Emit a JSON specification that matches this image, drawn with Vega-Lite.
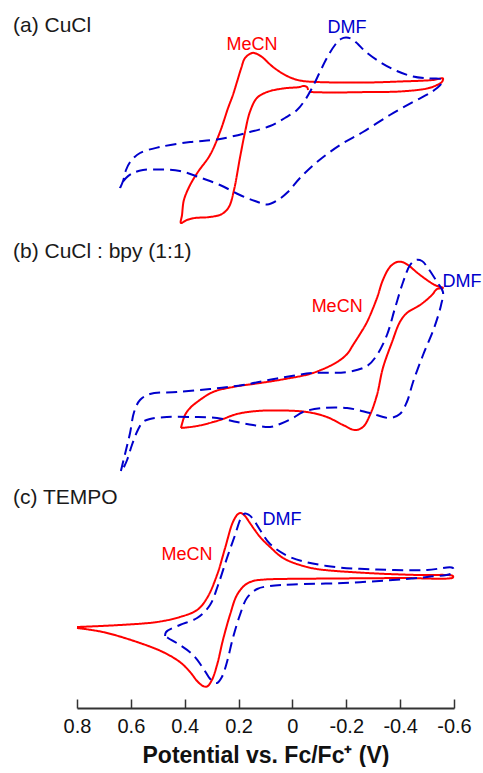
{
  "$schema": "https://vega.github.io/schema/vega-lite/v6.json",
  "background": "white",
  "padding": {"left": 13, "top": 15, "right": 0, "bottom": 0},
  "bounds": "flush",
  "spacing": 31,
  "config": {
    "view": {"stroke": null},
    "font": "Liberation Sans",
    "title": {"anchor": "start", "frame": "group", "dx": -64, "fontSize": 21, "fontWeight": "normal", "color": "#1a1a1a", "baseline": "alphabetic"}
  },
  "datasets": {
    "cv_a": [
      {"solvent": "MeCN", "i": 1, "E": -0.061, "I": 13.6},
      {"solvent": "MeCN", "i": 2, "E": -0.140, "I": 13.55},
      {"solvent": "MeCN", "i": 3, "E": -0.288, "I": 13.6},
      {"solvent": "MeCN", "i": 4, "E": -0.399, "I": 13.65},
      {"solvent": "MeCN", "i": 5, "E": -0.500, "I": 13.95},
      {"solvent": "MeCN", "i": 6, "E": -0.537, "I": 14.3},
      {"solvent": "MeCN", "i": 7, "E": -0.555, "I": 14.6},
      {"solvent": "MeCN", "i": 8, "E": -0.559, "I": 14.95},
      {"solvent": "MeCN", "i": 9, "E": -0.522, "I": 14.8},
      {"solvent": "MeCN", "i": 10, "E": -0.399, "I": 14.65},
      {"solvent": "MeCN", "i": 11, "E": -0.277, "I": 14.55},
      {"solvent": "MeCN", "i": 12, "E": -0.091, "I": 14.6},
      {"solvent": "MeCN", "i": 13, "E": -0.028, "I": 14.75},
      {"solvent": "MeCN", "i": 14, "E": 0.020, "I": 15.2},
      {"solvent": "MeCN", "i": 15, "E": 0.072, "I": 16.1},
      {"solvent": "MeCN", "i": 16, "E": 0.113, "I": 17.1},
      {"solvent": "MeCN", "i": 17, "E": 0.135, "I": 17.45},
      {"solvent": "MeCN", "i": 18, "E": 0.150, "I": 17.5},
      {"solvent": "MeCN", "i": 19, "E": 0.176, "I": 17.0},
      {"solvent": "MeCN", "i": 20, "E": 0.190, "I": 16.0},
      {"solvent": "MeCN", "i": 21, "E": 0.206, "I": 14.6},
      {"solvent": "MeCN", "i": 22, "E": 0.221, "I": 13.3},
      {"solvent": "MeCN", "i": 23, "E": 0.239, "I": 12.0},
      {"solvent": "MeCN", "i": 24, "E": 0.269, "I": 9.6},
      {"solvent": "MeCN", "i": 25, "E": 0.306, "I": 7.3},
      {"solvent": "MeCN", "i": 26, "E": 0.351, "I": 5.6},
      {"solvent": "MeCN", "i": 27, "E": 0.380, "I": 4.3},
      {"solvent": "MeCN", "i": 28, "E": 0.403, "I": 2.8},
      {"solvent": "MeCN", "i": 29, "E": 0.410, "I": 1.3},
      {"solvent": "MeCN", "i": 30, "E": 0.414, "I": 0.5},
      {"solvent": "MeCN", "i": 31, "E": 0.392, "I": 0.8},
      {"solvent": "MeCN", "i": 32, "E": 0.362, "I": 1.0},
      {"solvent": "MeCN", "i": 33, "E": 0.306, "I": 1.1},
      {"solvent": "MeCN", "i": 34, "E": 0.262, "I": 1.4},
      {"solvent": "MeCN", "i": 35, "E": 0.236, "I": 2.1},
      {"solvent": "MeCN", "i": 36, "E": 0.217, "I": 3.8},
      {"solvent": "MeCN", "i": 37, "E": 0.195, "I": 7.0},
      {"solvent": "MeCN", "i": 38, "E": 0.176, "I": 9.6},
      {"solvent": "MeCN", "i": 39, "E": 0.158, "I": 11.6},
      {"solvent": "MeCN", "i": 40, "E": 0.132, "I": 13.0},
      {"solvent": "MeCN", "i": 41, "E": 0.094, "I": 13.6},
      {"solvent": "MeCN", "i": 42, "E": 0.035, "I": 13.95},
      {"solvent": "MeCN", "i": 43, "E": -0.028, "I": 14.1},
      {"solvent": "MeCN", "i": 44, "E": -0.039, "I": 14.2},
      {"solvent": "MeCN", "i": 45, "E": -0.054, "I": 14.1},
      {"solvent": "MeCN", "i": 46, "E": -0.058, "I": 13.8},
      {"solvent": "DMF", "i": 1, "E": 0.640, "I": 4.0},
      {"solvent": "DMF", "i": 2, "E": 0.629, "I": 4.7},
      {"solvent": "DMF", "i": 3, "E": 0.618, "I": 5.8},
      {"solvent": "DMF", "i": 4, "E": 0.600, "I": 6.7},
      {"solvent": "DMF", "i": 5, "E": 0.566, "I": 7.5},
      {"solvent": "DMF", "i": 6, "E": 0.492, "I": 8.1},
      {"solvent": "DMF", "i": 7, "E": 0.380, "I": 8.6},
      {"solvent": "DMF", "i": 8, "E": 0.280, "I": 8.85},
      {"solvent": "DMF", "i": 9, "E": 0.158, "I": 9.6},
      {"solvent": "DMF", "i": 10, "E": 0.083, "I": 10.2},
      {"solvent": "DMF", "i": 11, "E": 0.028, "I": 11.0},
      {"solvent": "DMF", "i": 12, "E": -0.017, "I": 11.8},
      {"solvent": "DMF", "i": 13, "E": -0.047, "I": 12.8},
      {"solvent": "DMF", "i": 14, "E": -0.073, "I": 14.0},
      {"solvent": "DMF", "i": 15, "E": -0.102, "I": 15.6},
      {"solvent": "DMF", "i": 16, "E": -0.128, "I": 17.0},
      {"solvent": "DMF", "i": 17, "E": -0.158, "I": 18.3},
      {"solvent": "DMF", "i": 18, "E": -0.180, "I": 18.9},
      {"solvent": "DMF", "i": 19, "E": -0.199, "I": 19.05},
      {"solvent": "DMF", "i": 20, "E": -0.221, "I": 18.9},
      {"solvent": "DMF", "i": 21, "E": -0.243, "I": 18.4},
      {"solvent": "DMF", "i": 22, "E": -0.269, "I": 17.7},
      {"solvent": "DMF", "i": 23, "E": -0.325, "I": 16.6},
      {"solvent": "DMF", "i": 24, "E": -0.388, "I": 15.7},
      {"solvent": "DMF", "i": 25, "E": -0.448, "I": 15.15},
      {"solvent": "DMF", "i": 26, "E": -0.503, "I": 14.95},
      {"solvent": "DMF", "i": 27, "E": -0.555, "I": 14.85},
      {"solvent": "DMF", "i": 28, "E": -0.552, "I": 14.4},
      {"solvent": "DMF", "i": 29, "E": -0.537, "I": 14.0},
      {"solvent": "DMF", "i": 30, "E": -0.511, "I": 13.5},
      {"solvent": "DMF", "i": 31, "E": -0.448, "I": 12.6},
      {"solvent": "DMF", "i": 32, "E": -0.362, "I": 11.3},
      {"solvent": "DMF", "i": 33, "E": -0.262, "I": 9.6},
      {"solvent": "DMF", "i": 34, "E": -0.177, "I": 8.3},
      {"solvent": "DMF", "i": 35, "E": -0.091, "I": 6.6},
      {"solvent": "DMF", "i": 36, "E": -0.028, "I": 5.0},
      {"solvent": "DMF", "i": 37, "E": 0.017, "I": 3.6},
      {"solvent": "DMF", "i": 38, "E": 0.054, "I": 2.8},
      {"solvent": "DMF", "i": 39, "E": 0.094, "I": 2.35},
      {"solvent": "DMF", "i": 40, "E": 0.139, "I": 2.7},
      {"solvent": "DMF", "i": 41, "E": 0.195, "I": 3.3},
      {"solvent": "DMF", "i": 42, "E": 0.269, "I": 4.3},
      {"solvent": "DMF", "i": 43, "E": 0.343, "I": 5.05},
      {"solvent": "DMF", "i": 44, "E": 0.418, "I": 5.7},
      {"solvent": "DMF", "i": 45, "E": 0.492, "I": 5.85},
      {"solvent": "DMF", "i": 46, "E": 0.555, "I": 5.8},
      {"solvent": "DMF", "i": 47, "E": 0.592, "I": 5.5},
      {"solvent": "DMF", "i": 48, "E": 0.618, "I": 5.0},
      {"solvent": "DMF", "i": 49, "E": 0.637, "I": 4.3},
      {"solvent": "DMF", "i": 50, "E": 0.640, "I": 4.0}
    ],
    "cv_b": [
      {"solvent": "MeCN", "i": 1, "E": 0.414, "I": 4.9},
      {"solvent": "MeCN", "i": 2, "E": 0.399, "I": 6.2},
      {"solvent": "MeCN", "i": 3, "E": 0.380, "I": 6.9},
      {"solvent": "MeCN", "i": 4, "E": 0.354, "I": 7.5},
      {"solvent": "MeCN", "i": 5, "E": 0.295, "I": 8.5},
      {"solvent": "MeCN", "i": 6, "E": 0.221, "I": 9.0},
      {"solvent": "MeCN", "i": 7, "E": 0.120, "I": 9.4},
      {"solvent": "MeCN", "i": 8, "E": 0.028, "I": 9.8},
      {"solvent": "MeCN", "i": 9, "E": -0.076, "I": 10.4},
      {"solvent": "MeCN", "i": 10, "E": -0.166, "I": 11.5},
      {"solvent": "MeCN", "i": 11, "E": -0.203, "I": 12.3},
      {"solvent": "MeCN", "i": 12, "E": -0.225, "I": 13.2},
      {"solvent": "MeCN", "i": 13, "E": -0.251, "I": 14.3},
      {"solvent": "MeCN", "i": 14, "E": -0.277, "I": 15.5},
      {"solvent": "MeCN", "i": 15, "E": -0.314, "I": 17.9},
      {"solvent": "MeCN", "i": 16, "E": -0.336, "I": 19.7},
      {"solvent": "MeCN", "i": 17, "E": -0.362, "I": 21.0},
      {"solvent": "MeCN", "i": 18, "E": -0.388, "I": 21.5},
      {"solvent": "MeCN", "i": 19, "E": -0.407, "I": 21.5},
      {"solvent": "MeCN", "i": 20, "E": -0.429, "I": 21.2},
      {"solvent": "MeCN", "i": 21, "E": -0.474, "I": 20.2},
      {"solvent": "MeCN", "i": 22, "E": -0.529, "I": 19.2},
      {"solvent": "MeCN", "i": 23, "E": -0.559, "I": 18.9},
      {"solvent": "MeCN", "i": 24, "E": -0.537, "I": 18.8},
      {"solvent": "MeCN", "i": 25, "E": -0.518, "I": 18.2},
      {"solvent": "MeCN", "i": 26, "E": -0.474, "I": 17.2},
      {"solvent": "MeCN", "i": 27, "E": -0.425, "I": 16.4},
      {"solvent": "MeCN", "i": 28, "E": -0.399, "I": 15.5},
      {"solvent": "MeCN", "i": 29, "E": -0.370, "I": 13.5},
      {"solvent": "MeCN", "i": 30, "E": -0.336, "I": 10.9},
      {"solvent": "MeCN", "i": 31, "E": -0.314, "I": 8.2},
      {"solvent": "MeCN", "i": 32, "E": -0.288, "I": 6.2},
      {"solvent": "MeCN", "i": 33, "E": -0.262, "I": 5.0},
      {"solvent": "MeCN", "i": 34, "E": -0.232, "I": 4.7},
      {"solvent": "MeCN", "i": 35, "E": -0.188, "I": 5.2},
      {"solvent": "MeCN", "i": 36, "E": -0.128, "I": 6.0},
      {"solvent": "MeCN", "i": 37, "E": -0.054, "I": 6.5},
      {"solvent": "MeCN", "i": 38, "E": 0.035, "I": 6.65},
      {"solvent": "MeCN", "i": 39, "E": 0.132, "I": 6.6},
      {"solvent": "MeCN", "i": 40, "E": 0.206, "I": 6.3},
      {"solvent": "MeCN", "i": 41, "E": 0.269, "I": 5.7},
      {"solvent": "MeCN", "i": 42, "E": 0.354, "I": 5.1},
      {"solvent": "MeCN", "i": 43, "E": 0.414, "I": 4.9},
      {"solvent": "DMF", "i": 1, "E": 0.637, "I": 0.6},
      {"solvent": "DMF", "i": 2, "E": 0.629, "I": 1.5},
      {"solvent": "DMF", "i": 3, "E": 0.618, "I": 2.7},
      {"solvent": "DMF", "i": 4, "E": 0.603, "I": 4.4},
      {"solvent": "DMF", "i": 5, "E": 0.588, "I": 6.5},
      {"solvent": "DMF", "i": 6, "E": 0.566, "I": 7.7},
      {"solvent": "DMF", "i": 7, "E": 0.529, "I": 8.3},
      {"solvent": "DMF", "i": 8, "E": 0.429, "I": 8.5},
      {"solvent": "DMF", "i": 9, "E": 0.306, "I": 8.8},
      {"solvent": "DMF", "i": 10, "E": 0.184, "I": 9.2},
      {"solvent": "DMF", "i": 11, "E": 0.057, "I": 9.85},
      {"solvent": "DMF", "i": 12, "E": -0.076, "I": 10.4},
      {"solvent": "DMF", "i": 13, "E": -0.203, "I": 10.5},
      {"solvent": "DMF", "i": 14, "E": -0.277, "I": 11.1},
      {"solvent": "DMF", "i": 15, "E": -0.314, "I": 12.2},
      {"solvent": "DMF", "i": 16, "E": -0.351, "I": 14.2},
      {"solvent": "DMF", "i": 17, "E": -0.381, "I": 16.9},
      {"solvent": "DMF", "i": 18, "E": -0.411, "I": 19.5},
      {"solvent": "DMF", "i": 19, "E": -0.437, "I": 21.2},
      {"solvent": "DMF", "i": 20, "E": -0.459, "I": 21.7},
      {"solvent": "DMF", "i": 21, "E": -0.481, "I": 21.6},
      {"solvent": "DMF", "i": 22, "E": -0.503, "I": 20.9},
      {"solvent": "DMF", "i": 23, "E": -0.537, "I": 19.5},
      {"solvent": "DMF", "i": 24, "E": -0.559, "I": 18.5},
      {"solvent": "DMF", "i": 25, "E": -0.552, "I": 17.2},
      {"solvent": "DMF", "i": 26, "E": -0.526, "I": 14.9},
      {"solvent": "DMF", "i": 27, "E": -0.485, "I": 12.2},
      {"solvent": "DMF", "i": 28, "E": -0.448, "I": 9.5},
      {"solvent": "DMF", "i": 29, "E": -0.425, "I": 7.5},
      {"solvent": "DMF", "i": 30, "E": -0.399, "I": 6.3},
      {"solvent": "DMF", "i": 31, "E": -0.362, "I": 5.9},
      {"solvent": "DMF", "i": 32, "E": -0.288, "I": 6.4},
      {"solvent": "DMF", "i": 33, "E": -0.203, "I": 6.9},
      {"solvent": "DMF", "i": 34, "E": -0.113, "I": 6.9},
      {"solvent": "DMF", "i": 35, "E": -0.039, "I": 6.5},
      {"solvent": "DMF", "i": 36, "E": -0.002, "I": 5.9},
      {"solvent": "DMF", "i": 37, "E": 0.046, "I": 5.3},
      {"solvent": "DMF", "i": 38, "E": 0.083, "I": 5.0},
      {"solvent": "DMF", "i": 39, "E": 0.146, "I": 5.2},
      {"solvent": "DMF", "i": 40, "E": 0.206, "I": 5.5},
      {"solvent": "DMF", "i": 41, "E": 0.280, "I": 5.9},
      {"solvent": "DMF", "i": 42, "E": 0.369, "I": 6.0},
      {"solvent": "DMF", "i": 43, "E": 0.466, "I": 6.0},
      {"solvent": "DMF", "i": 44, "E": 0.529, "I": 5.8},
      {"solvent": "DMF", "i": 45, "E": 0.555, "I": 5.5},
      {"solvent": "DMF", "i": 46, "E": 0.574, "I": 4.7},
      {"solvent": "DMF", "i": 47, "E": 0.596, "I": 3.2},
      {"solvent": "DMF", "i": 48, "E": 0.614, "I": 1.7},
      {"solvent": "DMF", "i": 49, "E": 0.629, "I": 0.8}
    ],
    "cv_c": [
      {"solvent": "MeCN", "i": 1, "E": 0.800, "I": 8.1},
      {"solvent": "MeCN", "i": 2, "E": 0.640, "I": 8.3},
      {"solvent": "MeCN", "i": 3, "E": 0.503, "I": 8.6},
      {"solvent": "MeCN", "i": 4, "E": 0.418, "I": 9.1},
      {"solvent": "MeCN", "i": 5, "E": 0.354, "I": 9.8},
      {"solvent": "MeCN", "i": 6, "E": 0.317, "I": 11.0},
      {"solvent": "MeCN", "i": 7, "E": 0.280, "I": 13.3},
      {"solvent": "MeCN", "i": 8, "E": 0.250, "I": 16.0},
      {"solvent": "MeCN", "i": 9, "E": 0.221, "I": 18.6},
      {"solvent": "MeCN", "i": 10, "E": 0.202, "I": 19.4},
      {"solvent": "MeCN", "i": 11, "E": 0.191, "I": 19.5},
      {"solvent": "MeCN", "i": 12, "E": 0.176, "I": 19.2},
      {"solvent": "MeCN", "i": 13, "E": 0.158, "I": 18.5},
      {"solvent": "MeCN", "i": 14, "E": 0.120, "I": 17.1},
      {"solvent": "MeCN", "i": 15, "E": 0.083, "I": 16.1},
      {"solvent": "MeCN", "i": 16, "E": 0.035, "I": 15.0},
      {"solvent": "MeCN", "i": 17, "E": -0.028, "I": 14.3},
      {"solvent": "MeCN", "i": 18, "E": -0.091, "I": 13.9},
      {"solvent": "MeCN", "i": 19, "E": -0.277, "I": 13.5},
      {"solvent": "MeCN", "i": 20, "E": -0.463, "I": 13.3},
      {"solvent": "MeCN", "i": 21, "E": -0.596, "I": 13.2},
      {"solvent": "MeCN", "i": 22, "E": -0.596, "I": 13.05},
      {"solvent": "MeCN", "i": 23, "E": -0.399, "I": 13.0},
      {"solvent": "MeCN", "i": 24, "E": -0.151, "I": 12.95},
      {"solvent": "MeCN", "i": 25, "E": 0.046, "I": 12.9},
      {"solvent": "MeCN", "i": 26, "E": 0.102, "I": 12.85},
      {"solvent": "MeCN", "i": 27, "E": 0.146, "I": 12.7},
      {"solvent": "MeCN", "i": 28, "E": 0.176, "I": 12.3},
      {"solvent": "MeCN", "i": 29, "E": 0.206, "I": 11.3},
      {"solvent": "MeCN", "i": 30, "E": 0.232, "I": 9.3},
      {"solvent": "MeCN", "i": 31, "E": 0.258, "I": 6.8},
      {"solvent": "MeCN", "i": 32, "E": 0.280, "I": 4.3},
      {"solvent": "MeCN", "i": 33, "E": 0.299, "I": 2.8},
      {"solvent": "MeCN", "i": 34, "E": 0.317, "I": 2.15},
      {"solvent": "MeCN", "i": 35, "E": 0.332, "I": 2.2},
      {"solvent": "MeCN", "i": 36, "E": 0.354, "I": 2.7},
      {"solvent": "MeCN", "i": 37, "E": 0.380, "I": 3.6},
      {"solvent": "MeCN", "i": 38, "E": 0.418, "I": 4.6},
      {"solvent": "MeCN", "i": 39, "E": 0.481, "I": 5.6},
      {"solvent": "MeCN", "i": 40, "E": 0.577, "I": 6.6},
      {"solvent": "MeCN", "i": 41, "E": 0.704, "I": 7.6},
      {"solvent": "MeCN", "i": 42, "E": 0.800, "I": 8.0},
      {"solvent": "DMF", "i": 1, "E": 0.473, "I": 7.2},
      {"solvent": "DMF", "i": 2, "E": 0.469, "I": 7.6},
      {"solvent": "DMF", "i": 3, "E": 0.418, "I": 8.3},
      {"solvent": "DMF", "i": 4, "E": 0.354, "I": 9.0},
      {"solvent": "DMF", "i": 5, "E": 0.306, "I": 10.3},
      {"solvent": "DMF", "i": 6, "E": 0.276, "I": 12.3},
      {"solvent": "DMF", "i": 7, "E": 0.243, "I": 15.0},
      {"solvent": "DMF", "i": 8, "E": 0.213, "I": 17.3},
      {"solvent": "DMF", "i": 9, "E": 0.191, "I": 19.0},
      {"solvent": "DMF", "i": 10, "E": 0.176, "I": 19.45},
      {"solvent": "DMF", "i": 11, "E": 0.161, "I": 19.3},
      {"solvent": "DMF", "i": 12, "E": 0.146, "I": 18.9},
      {"solvent": "DMF", "i": 13, "E": 0.120, "I": 17.8},
      {"solvent": "DMF", "i": 14, "E": 0.083, "I": 16.4},
      {"solvent": "DMF", "i": 15, "E": 0.009, "I": 15.1},
      {"solvent": "DMF", "i": 16, "E": -0.128, "I": 14.2},
      {"solvent": "DMF", "i": 17, "E": -0.314, "I": 13.85},
      {"solvent": "DMF", "i": 18, "E": -0.500, "I": 13.8},
      {"solvent": "DMF", "i": 19, "E": -0.596, "I": 14.0},
      {"solvent": "DMF", "i": 20, "E": -0.592, "I": 13.5},
      {"solvent": "DMF", "i": 21, "E": -0.500, "I": 13.1},
      {"solvent": "DMF", "i": 22, "E": -0.373, "I": 12.8},
      {"solvent": "DMF", "i": 23, "E": -0.188, "I": 12.5},
      {"solvent": "DMF", "i": 24, "E": -0.002, "I": 12.35},
      {"solvent": "DMF", "i": 25, "E": 0.083, "I": 12.2},
      {"solvent": "DMF", "i": 26, "E": 0.131, "I": 11.9},
      {"solvent": "DMF", "i": 27, "E": 0.169, "I": 11.0},
      {"solvent": "DMF", "i": 28, "E": 0.195, "I": 9.3},
      {"solvent": "DMF", "i": 29, "E": 0.221, "I": 7.0},
      {"solvent": "DMF", "i": 30, "E": 0.243, "I": 4.6},
      {"solvent": "DMF", "i": 31, "E": 0.262, "I": 3.1},
      {"solvent": "DMF", "i": 32, "E": 0.280, "I": 2.5},
      {"solvent": "DMF", "i": 33, "E": 0.302, "I": 2.8},
      {"solvent": "DMF", "i": 34, "E": 0.332, "I": 4.0},
      {"solvent": "DMF", "i": 35, "E": 0.369, "I": 5.3},
      {"solvent": "DMF", "i": 36, "E": 0.418, "I": 6.3},
      {"solvent": "DMF", "i": 37, "E": 0.462, "I": 7.0},
      {"solvent": "DMF", "i": 38, "E": 0.473, "I": 7.2}
    ],
    "labels": [
      {"panel": "a", "solvent": "MeCN", "E": 0.150, "I": 18.3},
      {"panel": "a", "solvent": "DMF", "E": -0.203, "I": 20.0},
      {"panel": "b", "solvent": "MeCN", "E": -0.166, "I": 17.0},
      {"panel": "b", "solvent": "DMF", "E": -0.630, "I": 19.5},
      {"panel": "c", "solvent": "MeCN", "E": 0.3915, "I": 15.3},
      {"panel": "c", "solvent": "DMF", "E": 0.0388, "I": 18.8}
    ]
  },
  "vconcat": [
    {
      "width": 377,
      "height": 193,
      "title": {"text": "(a) CuCl", "offset": -17},
      "encoding": {
        "x": {"field": "E", "type": "quantitative", "scale": {"domain": [-0.6, 0.8], "reverse": true, "nice": false, "zero": false}, "axis": null},
        "y": {"field": "I", "type": "quantitative", "scale": {"domain": [0, 19.3], "nice": false, "zero": false}, "axis": null},
        "color": {"field": "solvent", "type": "nominal", "scale": {"domain": ["MeCN", "DMF"], "range": ["#ff0000", "#0000cc"]}, "legend": null}
      },
      "layer": [
        {
          "data": {"name": "cv_a"},
          "mark": {"type": "line", "interpolate": "catmull-rom", "strokeWidth": 2},
          "encoding": {
            "order": {"field": "i", "type": "quantitative"},
            "strokeDash": {"field": "solvent", "type": "nominal", "scale": {"domain": ["MeCN", "DMF"], "range": [[1, 0], [11, 6]]}, "legend": null}
          }
        },
        {
          "data": {"name": "labels"},
          "transform": [{"filter": "datum.panel == 'a'"}],
          "mark": {"type": "text", "fontSize": 18, "baseline": "middle", "align": "center"},
          "encoding": {"text": {"field": "solvent"}}
        }
      ]
    },
    {
      "width": 377,
      "height": 218,
      "title": {"text": "(b) CuCl : bpy (1:1)", "offset": -6},
      "encoding": {
        "x": {"field": "E", "type": "quantitative", "scale": {"domain": [-0.6, 0.8], "reverse": true, "nice": false, "zero": false}, "axis": null},
        "y": {"field": "I", "type": "quantitative", "scale": {"domain": [0, 21.8], "nice": false, "zero": false}, "axis": null},
        "color": {"field": "solvent", "type": "nominal", "scale": {"domain": ["MeCN", "DMF"], "range": ["#ff0000", "#0000cc"]}, "legend": null}
      },
      "layer": [
        {
          "data": {"name": "cv_b"},
          "mark": {"type": "line", "interpolate": "catmull-rom", "strokeWidth": 2},
          "encoding": {
            "order": {"field": "i", "type": "quantitative"},
            "strokeDash": {"field": "solvent", "type": "nominal", "scale": {"domain": ["MeCN", "DMF"], "range": [[1, 0], [11, 6]]}, "legend": null}
          }
        },
        {
          "data": {"name": "labels"},
          "transform": [{"filter": "datum.panel == 'b'"}],
          "mark": {"type": "text", "fontSize": 18, "baseline": "middle", "align": "center"},
          "encoding": {"text": {"field": "solvent"}}
        }
      ]
    },
    {
      "width": 377,
      "height": 200,
      "title": {"text": "(c) TEMPO", "offset": 0},
      "encoding": {
        "x": {
          "field": "E", "type": "quantitative",
          "scale": {"domain": [-0.6, 0.8], "reverse": true, "nice": false, "zero": false},
          "axis": {
            "values": [0.8, 0.6, 0.4, 0.2, 0, -0.2, -0.4, -0.6],
            "labelExpr": "datum.value == 0 ? '0' : (datum.value < 0 ? '-' : '') + format(abs(datum.value), '.1f')",
            "title": "Potential vs. Fc/Fc⁺ (V)",
            "titleFontSize": 23, "titleFontWeight": "bold", "titleColor": "#111111", "titlePadding": 8,
            "labelFontSize": 20, "labelColor": "#111111", "labelPadding": 17, "labelFlush": false, "labelOverlap": false,
            "domainColor": "#333333", "domainWidth": 2,
            "tickColor": "#333333", "tickWidth": 1.5, "tickSize": -9,
            "grid": false
          }
        },
        "y": {"field": "I", "type": "quantitative", "scale": {"domain": [0, 20], "nice": false, "zero": false}, "axis": null},
        "color": {"field": "solvent", "type": "nominal", "scale": {"domain": ["MeCN", "DMF"], "range": ["#ff0000", "#0000cc"]}, "legend": null}
      },
      "layer": [
        {
          "data": {"name": "cv_c"},
          "mark": {"type": "line", "interpolate": "catmull-rom", "strokeWidth": 2},
          "encoding": {
            "order": {"field": "i", "type": "quantitative"},
            "strokeDash": {"field": "solvent", "type": "nominal", "scale": {"domain": ["MeCN", "DMF"], "range": [[1, 0], [11, 6]]}, "legend": null}
          }
        },
        {
          "data": {"name": "labels"},
          "transform": [{"filter": "datum.panel == 'c'"}],
          "mark": {"type": "text", "fontSize": 18, "baseline": "middle", "align": "center"},
          "encoding": {"text": {"field": "solvent"}}
        }
      ]
    }
  ]
}
